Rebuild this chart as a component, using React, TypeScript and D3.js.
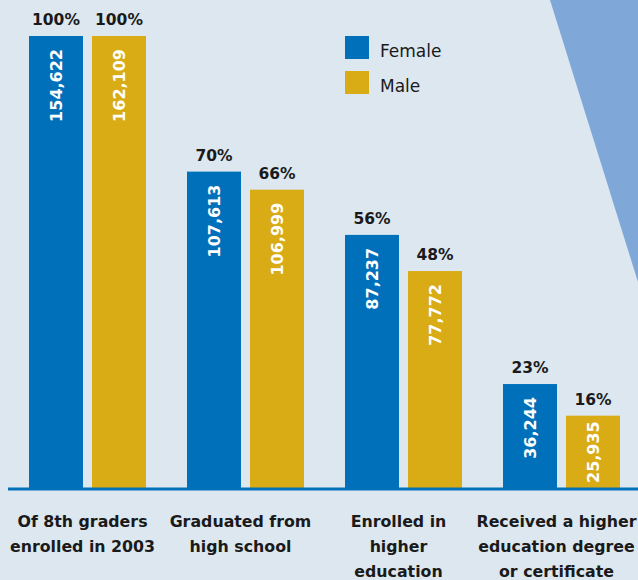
import React from "react";
import * as d3 from "d3";

const categories = [
  ["Of 8th graders", "enrolled in 2003"],
  ["Graduated from", "high school"],
  ["Enrolled in", "higher", "education"],
  ["Received a higher", "education degree", "or certificate"],
];
const seriesNames = ["Female", "Male"];
const femalePct = [100, 70, 56, 23];
const malePct = [100, 66, 48, 16];
const femaleCount = ["154,622", "107,613", "87,237", "36,244"];
const maleCount = ["162,109", "106,999", "77,772", "25,935"];

const W = 638;
const H = 580;
const BLUE = "#0070ba";
const GOLD = "#d9ab14";
const BG = "#dde7f0";
const TRI = "#7fa7d8";
const FONT = "'DejaVu Sans', sans-serif";

export default function App() {
  const baseY = 488;
  const keys = categories.map((_, i) => String(i));
  const x0 = d3.scaleBand<string>().domain(keys).range([29, 620]).paddingInner(41 / 158).paddingOuter(0);
  const x1 = d3.scaleBand<string>().domain(seriesNames).range([0, x0.bandwidth()]).paddingInner(9 / 63).paddingOuter(0);
  const y = d3.scaleLinear().domain([0, 100]).range([baseY, 36]);
  const colors: Record<string, string> = { Female: BLUE, Male: GOLD };
  const pcts: Record<string, number[]> = { Female: femalePct, Male: malePct };
  const counts: Record<string, string[]> = { Female: femaleCount, Male: maleCount };
  const countFs = 16;
  const labelX = x0.bandwidth() / 2 - 5;

  return (
    <svg width={W} height={H} style={{ position: "absolute", left: 0, top: 0, display: "block" }} fontFamily={FONT}>
      <rect x={0} y={0} width={W} height={H} fill={BG} />
      <polygon points={`550,0 ${W},0 ${W},282`} fill={TRI} />
      {keys.map((k, i) => (
        <g key={k} transform={`translate(${x0(k)},0)`}>
          {seriesNames.map((s) => {
            const bx = x1(s)!;
            const bw = x1.bandwidth();
            const top = y(pcts[s][i]);
            const cx = bx + bw / 2;
            const label = counts[s][i];
            const len = label.replace(",", "").length * 0.696 * countFs + 0.38 * countFs;
            const endY = Math.min(top + 13, baseY - 5 - len);
            return (
              <g key={s}>
                <rect x={bx} y={top} width={bw} height={baseY - top} fill={colors[s]} />
                <text x={cx} y={top - 11} textAnchor="middle" fontSize={15.5} fontWeight="bold" fill="#1a1a1a">
                  {pcts[s][i]}%
                </text>
                <text
                  transform={`translate(${cx},${endY}) rotate(-90)`}
                  textAnchor="end"
                  dy="0.36em"
                  fontSize={countFs}
                  fontWeight="bold"
                  fill="#ffffff"
                >
                  {label}
                </text>
              </g>
            );
          })}
          <text x={labelX} y={527} textAnchor="middle" fontSize={15.8} fontWeight="bold" fill="#1a1a1a">
            {categories[i].map((line, j) => (
              <tspan key={j} x={labelX} y={527 + j * 25}>
                {line}
              </tspan>
            ))}
          </text>
        </g>
      ))}
      <line x1={8} x2={W} y1={baseY + 1} y2={baseY + 1} stroke={BLUE} strokeWidth={3} />
      {seriesNames.map((s, j) => (
        <g key={s} transform={`translate(345,${36 + j * 35})`}>
          <rect x={0} y={0} width={24} height={23} fill={colors[s]} />
          <text x={35} y={21} fontSize={17} fill="#1a1a1a">
            {s}
          </text>
        </g>
      ))}
    </svg>
  );
}
